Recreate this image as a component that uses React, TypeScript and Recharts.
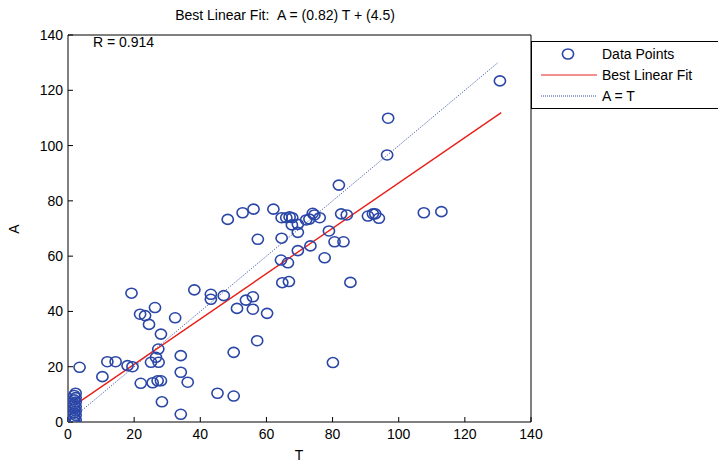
import React from "react";
import {
  Legend,
  Scatter,
  ScatterChart,
  XAxis,
  YAxis,
} from "recharts";

// measured points (T = target, A = actual)
const clusterA = [0, 0.8, 1.6, 2.4, 3.2, 4, 4.8, 5.6, 6.4, 7.2, 8, 8.8, 9.6, 10.4];
const tValues = [
  3.5, 10.4, 11.9, 14.4, 18.0, 19.5, 19.2, 22.0, 21.8, 23.3, 24.5, 26.3, 28.1, 27.3,
  26.6, 25.1, 27.4, 25.6, 27.1, 28.1, 28.4, 32.4, 34.1, 34.1, 36.2, 34.1, 38.2, 43.2,
  43.2, 47.1, 45.2, 50.1, 50.1, 51.1, 53.8, 55.9, 55.9, 60.2, 57.2, 48.3, 52.8, 56.1,
  57.4, 62.1, 64.6, 66.0, 67.0, 67.8, 67.7, 69.5, 69.5, 64.6, 69.5, 64.4, 66.5, 64.8,
  66.8, 72.0, 73.0, 74.0, 74.5, 76.1, 73.3, 78.9, 77.6, 80.6, 83.3, 82.6, 84.3, 80.1,
  85.4, 90.7, 92.2, 92.9, 94.0, 107.6, 112.9, 130.6, 96.8, 96.5, 81.9,
];
const aValues = [
  19.8, 16.4, 21.8, 21.8, 20.4, 20.0, 46.6, 14.0, 39.0, 38.5, 35.3, 41.4, 31.8, 26.4,
  23.4, 21.6, 21.6, 14.2, 14.9, 14.9, 7.3, 37.7, 24.0, 18.0, 14.4, 2.8, 47.8, 46.2,
  44.4, 45.7, 10.4, 9.4, 25.2, 41.1, 44.1, 45.3, 40.8, 39.3, 29.4, 73.3, 75.7, 77.0,
  66.1, 77.0, 73.9, 73.9, 74.2, 73.9, 71.3, 71.5, 68.6, 66.5, 62.0, 58.6, 57.6, 50.4,
  50.8, 73.1, 73.4, 75.5, 74.9, 73.9, 63.7, 69.1, 59.4, 65.2, 65.2, 75.3, 74.9, 21.5,
  50.5, 74.5, 75.3, 75.3, 73.7, 75.7, 76.1, 123.4, 109.9, 96.6, 85.7,
];
const fitT = [2, 131];
const fitA = [6.1, 111.9];
const identityT = [2, 130];
const identityA = [2, 130];
const xTicks = [0, 20, 40, 60, 80, 100, 120, 140];
const yTicks = [0, 20, 40, 60, 80, 100, 120, 140];

const points = [
  ...clusterA.map((a, i) => ({ T: i % 2 ? 2.3 : 1.9, A: a })),
  ...tValues.map((t, i) => ({ T: t, A: aValues[i] })),
];
const fitLine = fitT.map((t, i) => ({ T: t, A: fitA[i] }));
const identityLine = identityT.map((t, i) => ({ T: t, A: identityA[i] }));

const BLUE = "#2a46a6";
const FONT = "'Liberation Sans', Arial, sans-serif";
const tickStyle = { fill: "#000", fontSize: 14, fontFamily: FONT };

const Ring = (props: any) => (
  <ellipse cx={props.cx} cy={props.cy} rx={5.6} ry={5} fill="none" stroke={BLUE} strokeWidth={1.6} />
);
const NoDot = () => <g />;

const LegendBox = () => (
  <div
    style={{
      border: "1px solid #000",
      borderRight: "none",
      width: 187,
      height: 68,
      background: "#fff",
      fontFamily: FONT,
      fontSize: 14,
      color: "#000",
      boxSizing: "border-box",
    }}
  >
    {[
      { label: "Data Points", kind: "ring" },
      { label: "Best Linear Fit", kind: "fit" },
      { label: "A = T", kind: "id" },
    ].map((r) => (
      <div key={r.label} style={{ display: "flex", alignItems: "center", height: 21, marginTop: r.kind === "ring" ? 1 : 0 }}>
        <svg width={68} height={20} style={{ marginLeft: 2 }}>
          {r.kind === "ring" && <ellipse cx={34} cy={10} rx={5.6} ry={5} fill="none" stroke={BLUE} strokeWidth={1.6} />}
          {r.kind === "fit" && <line x1={7} x2={63} y1={10} y2={10} stroke="#e8201a" strokeWidth={1.2} />}
          {r.kind === "id" && <line x1={7} x2={63} y1={10} y2={10} stroke={BLUE} strokeWidth={1} strokeDasharray="1 1" />}
        </svg>
        <span>{r.label}</span>
      </div>
    ))}
  </div>
);

export default function App() {
  return (
    <div style={{ position: "absolute", left: 0, top: 0, width: 718, height: 463, background: "#fff" }}>
      <ScatterChart width={718} height={463} margin={{ top: 0, right: 0, bottom: 0, left: 0 }}>
        <XAxis
          xAxisId="b"
          type="number"
          dataKey="T"
          domain={[0, 140]}
          ticks={xTicks}
          height={41}
          tickSize={-5}
          tickMargin={12}
          tick={tickStyle}
          axisLine={{ stroke: "#000" }}
          tickLine={{ stroke: "#000" }}
          allowDataOverflow
        />
        <XAxis
          xAxisId="t"
          orientation="top"
          type="number"
          dataKey="T"
          domain={[0, 140]}
          ticks={xTicks}
          height={35}
          tickSize={-5}
          tick={false}
          axisLine={{ stroke: "#000" }}
          tickLine={{ stroke: "#000" }}
          allowDataOverflow
        />
        <YAxis
          yAxisId="l"
          type="number"
          dataKey="A"
          domain={[0, 140]}
          ticks={yTicks}
          width={68}
          tickSize={-5}
          tickMargin={10}
          tick={tickStyle}
          axisLine={{ stroke: "#000" }}
          tickLine={{ stroke: "#000" }}
          allowDataOverflow
        />
        <YAxis
          yAxisId="r"
          orientation="right"
          type="number"
          dataKey="A"
          domain={[0, 140]}
          ticks={yTicks}
          width={187}
          tickSize={-5}
          tick={false}
          axisLine={{ stroke: "#000" }}
          tickLine={{ stroke: "#000" }}
          allowDataOverflow
        />
        <Scatter xAxisId="b" yAxisId="l" name="A = T" data={identityLine} line={{ stroke: BLUE, strokeWidth: 1, strokeDasharray: "1 1.5" }} shape={NoDot} isAnimationActive={false} />
        <Scatter xAxisId="b" yAxisId="l" name="Best Linear Fit" data={fitLine} line={{ stroke: "#e8201a", strokeWidth: 1.4 }} shape={NoDot} isAnimationActive={false} />
        <Scatter xAxisId="b" yAxisId="l" name="Data Points" data={points} shape={Ring} isAnimationActive={false} />
        <Scatter xAxisId="t" yAxisId="r" data={[{ T: 0, A: 0 }, { T: 140, A: 140 }]} shape={NoDot} isAnimationActive={false} legendType="none" />
        <Legend
          layout="horizontal"
          verticalAlign="middle"
          align="center"
          content={<LegendBox />}
          wrapperStyle={{ position: "absolute", left: 531, top: 41, width: 187, height: 68 }}
        />
        <text x={285} y={20} textAnchor="middle" fontFamily={FONT} fontSize={14}>
          Best Linear Fit:{"\u00a0\u00a0"}A = (0.82) T + (4.5)
        </text>
        <text x={93} y={47} fontFamily={FONT} fontSize={14}>R = 0.914</text>
        <text x={299} y={460} textAnchor="middle" fontFamily={FONT} fontSize={14}>T</text>
        <text x={19} y={229} textAnchor="middle" fontFamily={FONT} fontSize={14} transform="rotate(-90 19 229)">A</text>
      </ScatterChart>
    </div>
  );
}
